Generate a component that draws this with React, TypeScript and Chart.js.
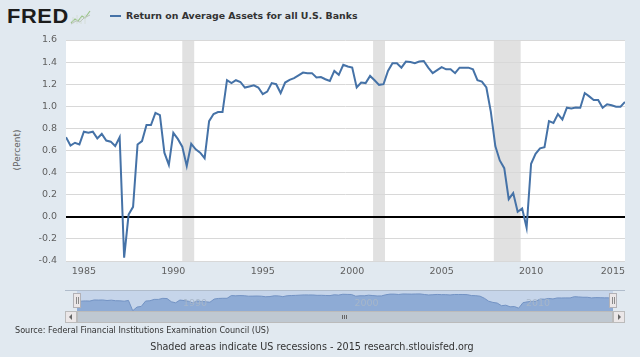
import React, { useEffect, useRef } from "react";
import { Chart, registerables } from "chart.js";

Chart.register(...registerables);

// ---------------- data ----------------
const firstYear = 1984; // first observation: 1984 Q1, quarterly
const roaPercent: number[] = [
  0.72, 0.645, 0.67, 0.655, // 1984
  0.77, 0.76, 0.77, 0.71, // 1985
  0.75, 0.69, 0.68, 0.64, // 1986
  0.72, -0.37, 0.02, 0.09, // 1987
  0.655, 0.685, 0.83, 0.83, // 1988
  0.94, 0.92, 0.58, 0.47, // 1989
  0.76, 0.705, 0.635, 0.46, // 1990
  0.66, 0.61, 0.58, 0.53, // 1991
  0.866, 0.93, 0.948, 0.948, // 1992
  1.236, 1.21, 1.236, 1.22, // 1993
  1.17, 1.18, 1.19, 1.17, // 1994
  1.11, 1.133, 1.21, 1.2, // 1995
  1.12, 1.215, 1.24, 1.255, // 1996
  1.28, 1.305, 1.3, 1.3, // 1997
  1.26, 1.265, 1.245, 1.23, // 1998
  1.32, 1.285, 1.375, 1.36, // 1999
  1.35, 1.17, 1.215, 1.21, // 2000
  1.275, 1.236, 1.194, 1.2, // 2001
  1.32, 1.39, 1.39, 1.35, // 2002
  1.405, 1.4, 1.39, 1.405, // 2003
  1.41, 1.35, 1.3, 1.327, // 2004
  1.355, 1.335, 1.335, 1.3, // 2005
  1.35, 1.35, 1.35, 1.335, // 2006
  1.236, 1.224, 1.17, 0.95, // 2007
  0.64, 0.51, 0.44, 0.16, // 2008
  0.215, 0.045, 0.075, -0.1, // 2009
  0.48, 0.57, 0.62, 0.63, // 2010
  0.866, 0.85, 0.93, 0.88, // 2011
  0.987, 0.98, 0.99, 0.987, // 2012
  1.12, 1.09, 1.057, 1.057, // 2013
  0.987, 1.018, 1.01, 0.996, // 2014
  0.996, 1.04, // 2015
];
const yTickValues = [-0.4, -0.2, 0, 0.2, 0.4, 0.6, 0.8, 1.0, 1.2, 1.4, 1.6];
const xTickYears = [1985, 1990, 1995, 2000, 2005, 2010, 2015];
const navigatorLabelYears = [1990, 2000, 2010];
const recessionStarts = [1990.5, 2001.1667, 2007.9167];
const recessionEnds = [1991.1667, 2001.8333, 2009.4167];

const seriesTitle = "Return on Average Assets for all U.S. Banks";
const yAxisTitle = "(Percent)";
const sourceText = "Source: Federal Financial Institutions Examination Council (US)";
const footerText = "Shaded areas indicate US recessions - 2015 research.stlouisfed.org";

const LINE_COLOR = "#4572A7";
const PAGE_BG = "#E1E9F0";
const LABEL_FONT = '"DejaVu Sans", Verdana, sans-serif';

const points = roaPercent.map((v, i) => ({ x: firstYear + i * 0.25, y: v }));
const lastX = firstYear + (roaPercent.length - 1) * 0.25;

export default function App() {
  const mainRef = useRef<HTMLCanvasElement | null>(null);
  const navRef = useRef<HTMLCanvasElement | null>(null);

  useEffect(() => {
    const mainPlugin = {
      id: "fredMain",
      beforeDraw(chart: any) {
        const { ctx, chartArea: a, scales } = chart;
        const x = scales.x;
        ctx.save();
        ctx.fillStyle = "#ffffff";
        ctx.fillRect(a.left, a.top, a.right - a.left, a.bottom - a.top);
        ctx.fillStyle = "#e1e1e1";
        recessionStarts.forEach((s, i) => {
          const x0 = x.getPixelForValue(s);
          const x1 = x.getPixelForValue(recessionEnds[i]);
          ctx.fillRect(x0, a.top, x1 - x0, a.bottom - a.top);
        });
        ctx.restore();
      },
      afterDraw(chart: any) {
        const { ctx, chartArea: a, scales } = chart;
        const x = scales.x;
        ctx.save();
        ctx.font = "9.5px " + LABEL_FONT;
        ctx.fillStyle = "#606060";
        ctx.textAlign = "center";
        ctx.textBaseline = "middle";
        xTickYears.forEach((yr) => {
          const t = String(yr);
          let px = x.getPixelForValue(yr);
          const w = ctx.measureText(t).width;
          if (px + w / 2 > a.right) px = a.right - w / 2;
          ctx.fillText(t, px, a.bottom + 11);
        });
        ctx.restore();
      },
    };

    const main = new Chart(mainRef.current as HTMLCanvasElement, {
      type: "line",
      data: {
        datasets: [
          {
            data: points,
            borderColor: LINE_COLOR,
            borderWidth: 2,
            pointRadius: 0,
            tension: 0,
            fill: false,
          },
        ],
      },
      options: {
        animation: false,
        responsive: false,
        maintainAspectRatio: false,
        layout: { padding: { left: 0, right: 15, top: 40, bottom: 0 } },
        plugins: { legend: { display: false }, tooltip: { enabled: false } },
        scales: {
          x: {
            type: "linear",
            min: firstYear,
            max: lastX,
            ticks: { display: false },
            grid: { display: false },
            border: { display: false },
            afterFit: (s: any) => {
              s.height = 24;
            },
          },
          y: {
            type: "linear",
            min: -0.4,
            max: 1.6,
            afterBuildTicks: (s: any) => {
              s.ticks = yTickValues.map((v) => ({ value: v }));
            },
            ticks: {
              callback: (v: any) => Number(v).toFixed(1),
              padding: 9,
              color: "#606060",
              font: { family: LABEL_FONT, size: 9.5 },
            },
            grid: {
              drawTicks: false,
              color: (c: any) =>
                c.tick && Math.abs(c.tick.value) < 1e-9 ? "#000000" : "#d8d8d8",
              lineWidth: (c: any) =>
                c.tick && Math.abs(c.tick.value) < 1e-9 ? 2 : 1,
            },
            border: { display: false },
            afterFit: (s: any) => {
              s.width = 66;
            },
          },
        },
      },
      plugins: [mainPlugin],
    } as any);

    const navPlugin = {
      id: "fredNav",
      beforeDraw(chart: any) {
        const { ctx, width, height } = chart;
        ctx.save();
        ctx.fillStyle = "#c6d5ea";
        ctx.fillRect(0, 0, width, height);
        ctx.restore();
      },
      afterDatasetsDraw(chart: any) {
        const { ctx, scales } = chart;
        ctx.save();
        ctx.font = "9.5px " + LABEL_FONT;
        ctx.fillStyle = "rgba(168,182,200,0.95)";
        ctx.textAlign = "left";
        ctx.textBaseline = "middle";
        navigatorLabelYears.forEach((yr) => {
          ctx.fillText(String(yr), scales.x.getPixelForValue(yr) + 3, 13);
        });
        ctx.restore();
      },
    };

    const nav = new Chart(navRef.current as HTMLCanvasElement, {
      type: "line",
      data: {
        datasets: [
          {
            data: points,
            borderColor: "#7393c4",
            borderWidth: 1,
            backgroundColor: "#8eabd5",
            fill: "start",
            pointRadius: 0,
            tension: 0,
          },
        ],
      },
      options: {
        animation: false,
        responsive: false,
        maintainAspectRatio: false,
        layout: { padding: 0 },
        plugins: { legend: { display: false }, tooltip: { enabled: false } },
        scales: {
          x: { type: "linear", min: firstYear, max: lastX, display: false },
          y: { type: "linear", min: -0.4, max: 1.72, display: false },
        },
      },
      plugins: [navPlugin],
    } as any);

    return () => {
      main.destroy();
      nav.destroy();
    };
  }, []);

  const abs = (o: any) => ({ position: "absolute" as const, ...o });

  const handle = (left: number) => (
    <div
      style={abs({
        left,
        top: 293,
        width: 6,
        height: 13,
        background: "#ebe7e8",
        border: "1px solid #b2b1b6",
      })}
    >
      <div style={abs({ left: 2, top: 3, width: 1, height: 7, background: "#8a8a8a" })} />
      <div style={abs({ left: 4, top: 3, width: 1, height: 7, background: "#8a8a8a" })} />
    </div>
  );

  return (
    <div
      style={{
        position: "fixed",
        left: 0,
        top: 0,
        width: 640,
        height: 357,
        background: PAGE_BG,
        overflow: "hidden",
        fontFamily: LABEL_FONT,
      }}
    >
      {/* FRED logo */}
      <div
        style={abs({
          left: 7,
          top: 5,
          fontFamily: '"Liberation Sans", Arial, sans-serif',
          fontWeight: 700,
          fontSize: 21,
          lineHeight: "21px",
          color: "#1c1c1c",
          letterSpacing: 0.6,
          transform: "scaleX(1.04)",
          transformOrigin: "left top",
        })}
      >
        FRED
      </div>
      <svg style={abs({ left: 70, top: 9 })} width="21" height="16" viewBox="0 0 21 16">
        <path d="M1 14 L5 10 L8 12 L12 7 L15 9 L20 2" stroke="#9cc58a" strokeWidth="1.2" fill="none" />
        <path d="M1 15 L6 12 L10 13 L14 9 L20 6" stroke="#b8c2b8" strokeWidth="1" fill="none" />
        <path d="M3 15 L3 8 M7 15 L7 6 M11 15 L11 9 M15 15 L15 5" stroke="#d2dad2" strokeWidth="0.8" fill="none" />
      </svg>

      {/* legend */}
      <div style={abs({ left: 110, top: 15, width: 11, height: 2, background: LINE_COLOR })} />
      <div
        style={abs({
          left: 126,
          top: 9,
          fontWeight: 700,
          fontSize: 9.4,
          lineHeight: "13px",
          color: "#333333",
          whiteSpace: "nowrap",
        })}
      >
        {seriesTitle}
      </div>

      {/* y axis title */}
      <div
        style={abs({
          left: 17,
          top: 150,
          fontSize: 9,
          color: "#606060",
          whiteSpace: "nowrap",
          transform: "translate(-50%, -50%) rotate(-90deg)",
        })}
      >
        {yAxisTitle}
      </div>

      <canvas ref={mainRef} width={640} height={285} style={abs({ left: 0, top: 0 })} />

      {/* navigator */}
      <div style={abs({ left: 65, top: 290, width: 560, height: 1, background: "#b0bccb" })} />
      <canvas ref={navRef} width={536} height={20} style={abs({ left: 77, top: 291 })} />
      {handle(73)}
      {handle(609)}

      {/* scrollbar */}
      <div style={abs({ left: 65, top: 311, width: 560, height: 12, background: "#eeeeee" })} />
      <div
        style={abs({
          left: 77,
          top: 311,
          width: 534,
          height: 10,
          background: "#bfc8d1",
          border: "1px solid #bbbbbb",
        })}
      >
        <div style={abs({ left: 264, top: 3, width: 1, height: 4, background: "#666" })} />
        <div style={abs({ left: 266, top: 3, width: 1, height: 4, background: "#666" })} />
        <div style={abs({ left: 268, top: 3, width: 1, height: 4, background: "#666" })} />
      </div>
      <div
        style={abs({
          left: 65,
          top: 311,
          width: 10,
          height: 10,
          background: "#ebe7e8",
          border: "1px solid #bbbbbb",
        })}
      >
        <div
          style={abs({
            left: 3,
            top: 2,
            width: 0,
            height: 0,
            borderTop: "3px solid transparent",
            borderBottom: "3px solid transparent",
            borderRight: "3px solid #666",
          })}
        />
      </div>
      <div
        style={abs({
          left: 613,
          top: 311,
          width: 10,
          height: 10,
          background: "#ebe7e8",
          border: "1px solid #bbbbbb",
        })}
      >
        <div
          style={abs({
            left: 4,
            top: 2,
            width: 0,
            height: 0,
            borderTop: "3px solid transparent",
            borderBottom: "3px solid transparent",
            borderLeft: "3px solid #666",
          })}
        />
      </div>

      {/* source & footer */}
      <div
        style={abs({
          left: 15,
          top: 324,
          fontFamily: '"DejaVu Sans Condensed", "Liberation Sans Narrow", "DejaVu Sans", sans-serif',
          fontStretch: "condensed",
          fontSize: 9,
          lineHeight: "12px",
          color: "#333333",
          whiteSpace: "nowrap",
        })}
      >
        {sourceText}
      </div>
      <div
        style={abs({
          left: 0,
          width: 624,
          top: 341,
          textAlign: "center",
          fontSize: 9.6,
          lineHeight: "12px",
          color: "#333333",
          whiteSpace: "nowrap",
        })}
      >
        {footerText}
      </div>
    </div>
  );
}
